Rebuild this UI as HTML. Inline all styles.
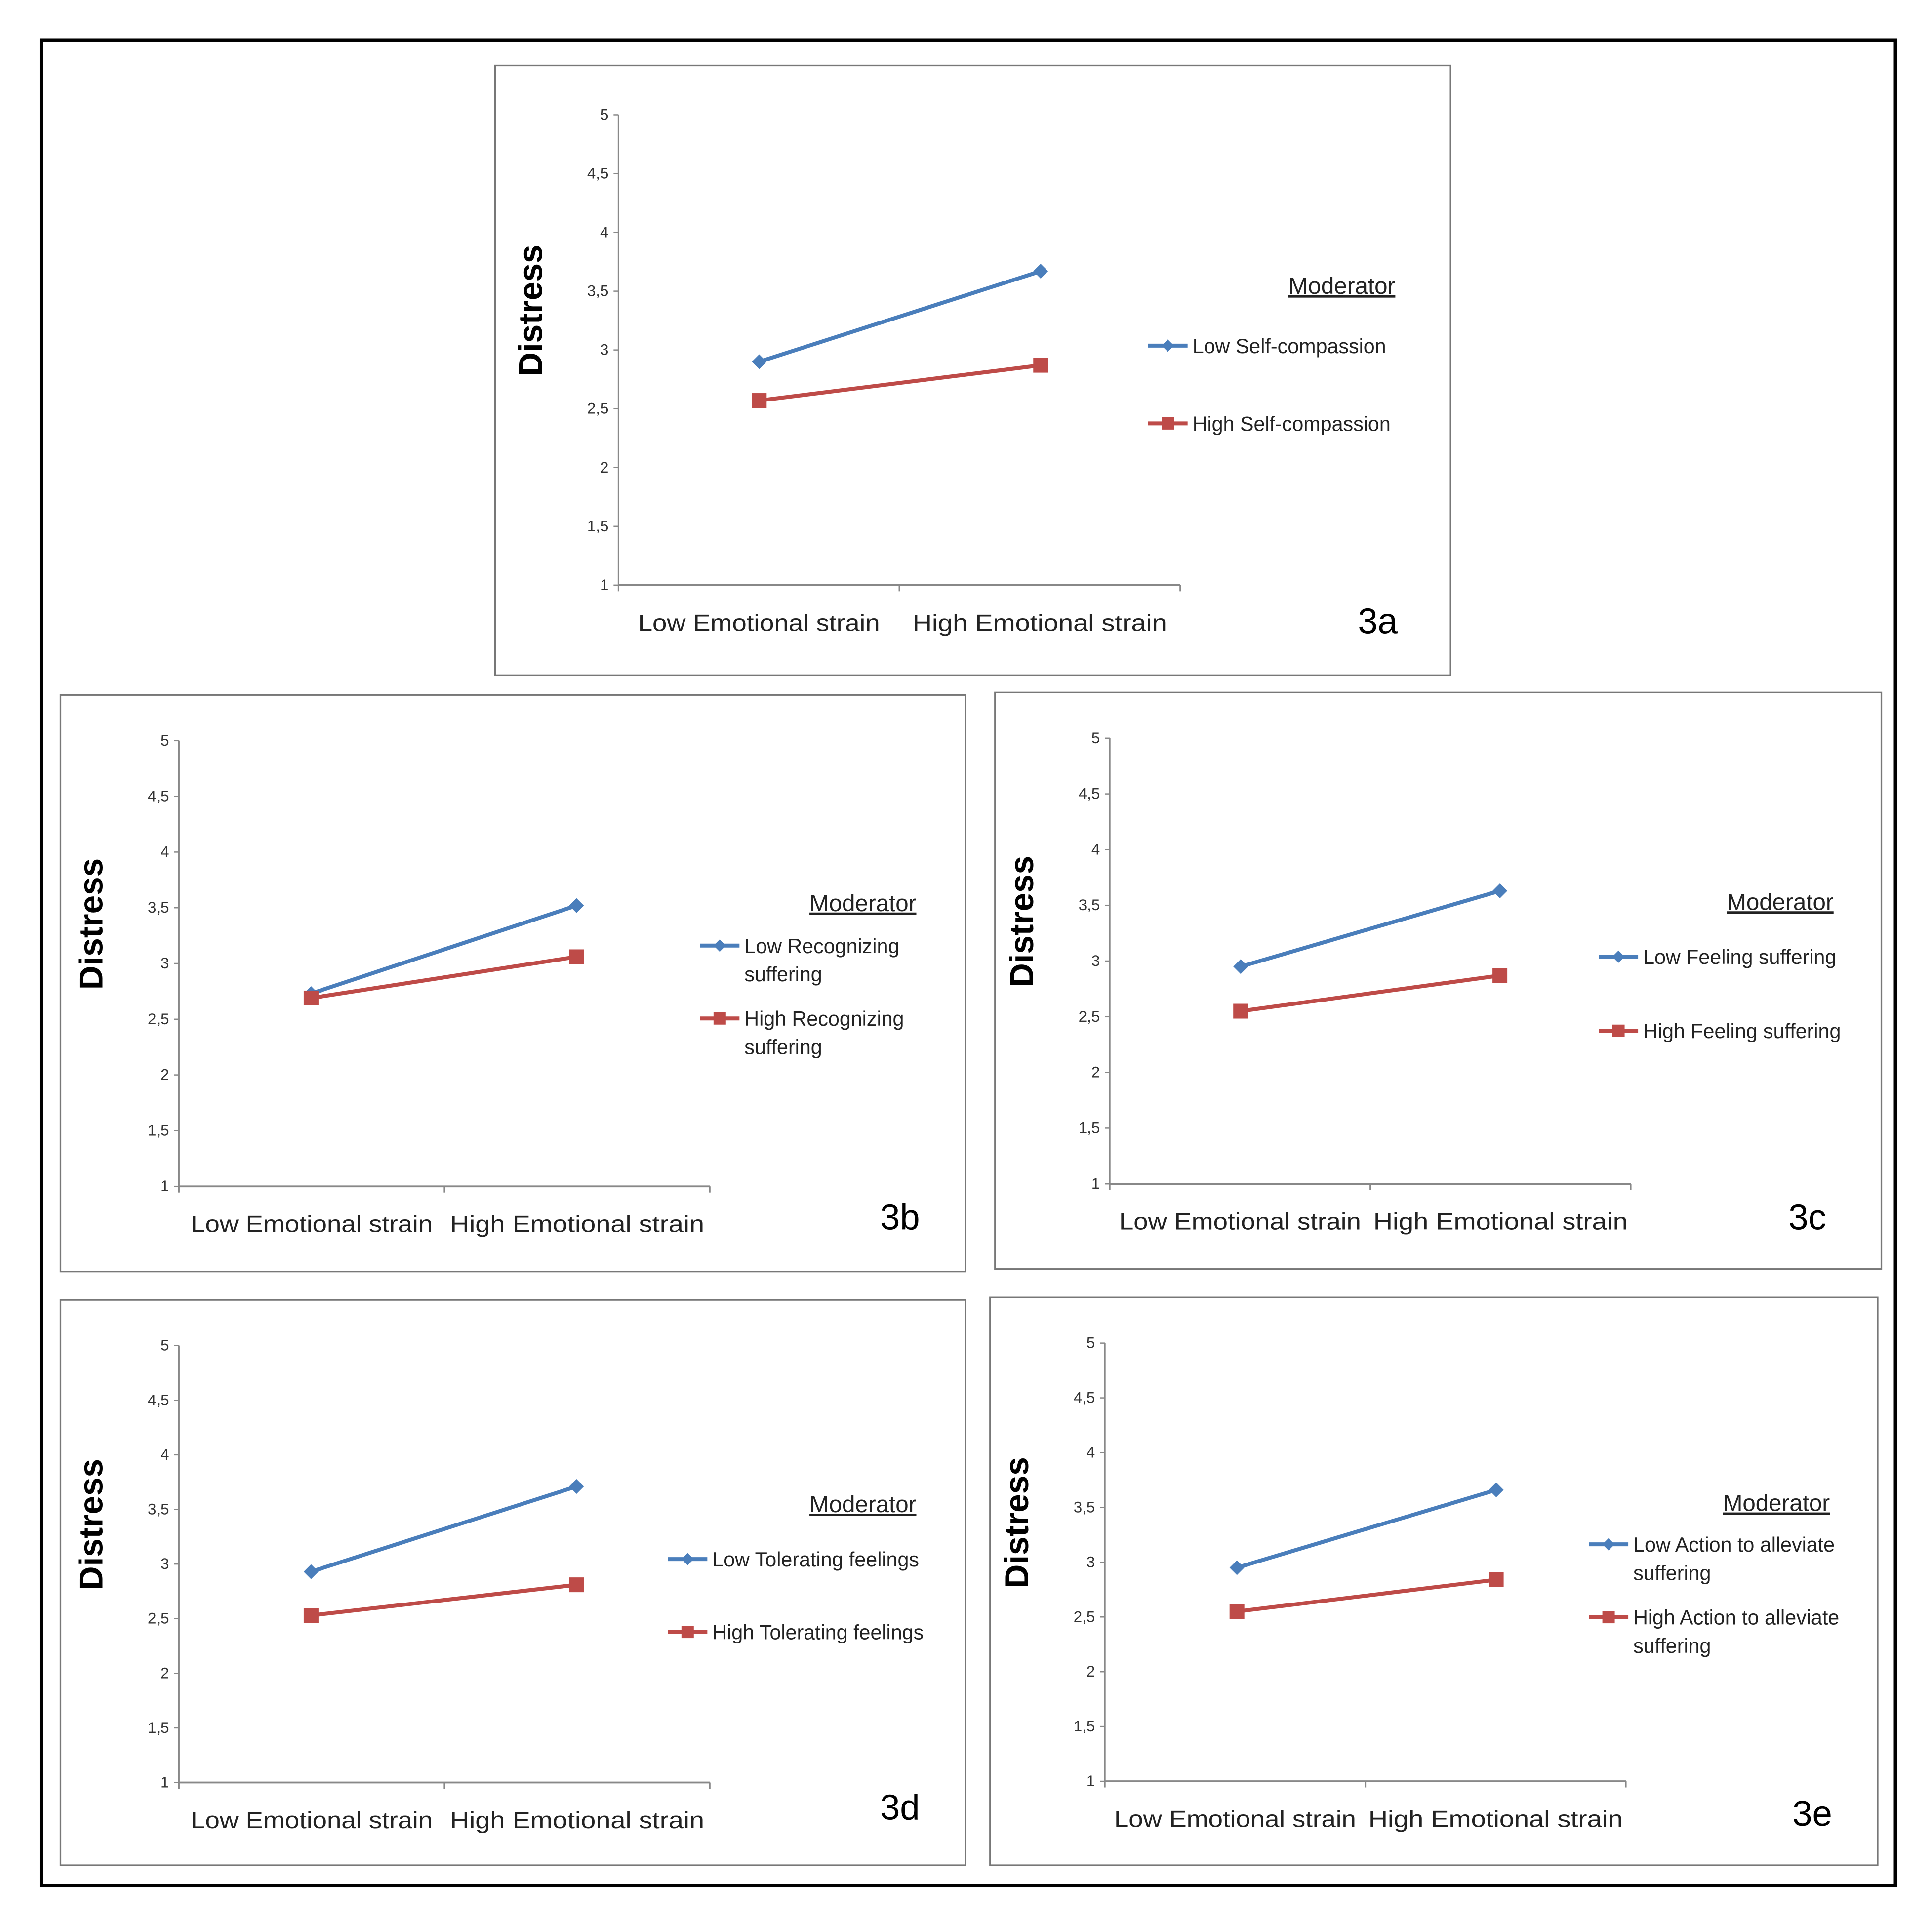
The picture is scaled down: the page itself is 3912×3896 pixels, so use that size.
<!DOCTYPE html>
<html><head><meta charset="utf-8"><style>html,body{margin:0;padding:0;background:#fff}svg{display:block}</style></head>
<body>
<svg id="fig" xmlns="http://www.w3.org/2000/svg" width="3912" height="3896" viewBox="0 0 1565 1558.6" font-family="Liberation Sans, sans-serif">
<rect x="33.5" y="32.5" width="1502" height="1495" fill="none" stroke="#000" stroke-width="3"/>
</svg>
<script>
const categories = ["Low Emotional strain", "High Emotional strain"];
const yTicks = ["1","1,5","2","2,5","3","3,5","4","4,5","5"];
const yTickValues = [1,1.5,2,2.5,3,3.5,4,4.5,5];
const panelLabels = ["3a","3b","3c","3d","3e"];
const lowSeries = [[2.9,3.67],[2.73,3.52],[2.95,3.63],[2.93,3.71],[2.95,3.66]];
const highSeries = [[2.57,2.87],[2.69,3.06],[2.55,2.87],[2.53,2.81],[2.55,2.84]];
const lowNames = [["Low Self-compassion"],["Low Recognizing","suffering"],["Low Feeling suffering"],["Low Tolerating feelings"],["Low Action to alleviate","suffering"]];
const highNames = [["High Self-compassion"],["High Recognizing","suffering"],["High Feeling suffering"],["High Tolerating feelings"],["High Action to alleviate","suffering"]];

const layouts = [
 {box:[401,53,774,494], ax:501, top:93, bot:474, end:956, px:[615,843], mod:[1087,231], lx:930, ly:[280,343], lab:[1116,503]},
 {box:[49,563,733,467], ax:145, top:600, bot:961, end:575, px:[252,467], mod:[699,731], lx:567, ly:[766,825], lab:[729,986]},
 {box:[806,561,718,467], ax:899, top:598, bot:959, end:1321, px:[1005,1215], mod:[1442,730], lx:1295, ly:[775,835], lab:[1464,986]},
 {box:[49,1053,733,458], ax:145, top:1090, bot:1444, end:575, px:[252,467], mod:[699,1218], lx:541, ly:[1263,1322], lab:[729,1464]},
 {box:[802,1051,719,460], ax:895, top:1088, bot:1443, end:1317, px:[1002,1212], mod:[1439,1217], lx:1287, ly:[1251,1310], lab:[1468,1469]}
];
const NS="http://www.w3.org/2000/svg";
const svg=document.getElementById('fig');
function mk(tag,attrs,parent,text){const e=document.createElementNS(NS,tag);for(const k in attrs)e.setAttribute(k,attrs[k]);if(text!==undefined)e.textContent=text;parent.appendChild(e);return e;}
layouts.forEach((L,i)=>{
 const g=mk('g',{},svg);
 
 
 const y=v=>L.bot-(v-1)/4*(L.bot-L.top);
 const box=mk('rect',{x:L.box[0],y:L.box[1],width:L.box[2],height:L.box[3],fill:'#fff',stroke:'#777','stroke-width':1.3},g);
 
 
 const yax=mk('line',{x1:L.ax,y1:L.top,x2:L.ax,y2:L.bot,stroke:'#888','stroke-width':1.2},g);
 
 
 const xax=mk('line',{x1:L.ax,y1:L.bot,x2:L.end,y2:L.bot,stroke:'#888','stroke-width':1.5},g);
 
 
 const mid=(L.ax+L.end)/2;
 [L.ax,mid,L.end].forEach(tx=>mk('line',{x1:tx,y1:L.bot,x2:tx,y2:L.bot+5,stroke:'#888','stroke-width':1.2},g));
 yTickValues.forEach((v,k)=>{
  mk('line',{x1:L.ax-4,y1:y(v),x2:L.ax,y2:y(v),stroke:'#888','stroke-width':1},g);
  const t=mk('text',{x:L.ax-8,y:y(v)+4,'font-size':12.5,'text-anchor':'end',fill:'#333'},g,yTicks[k]);
  
  
 });
 categories.forEach((c,k)=>{
  const cx=(k===0)?(L.ax+mid)/2:(mid+L.end)/2;
  const t=mk('text',{x:cx,y:L.bot+37,'font-size':19,'text-anchor':'middle',fill:'#222',textLength:(c.length>20?206:196),lengthAdjust:'spacingAndGlyphs'},g,c);
  
  
 });
 const yl=mk('text',{x:0,y:0,'font-size':27,'font-weight':'bold','text-anchor':'middle',fill:'#000',transform:`translate(${L.ax-62},${(L.top+L.bot)/2-32}) rotate(-90)`},g,'Distress');
 
 
 const xs=L.px;
 const lowLine=mk('polyline',{points:xs.map((x,k)=>x+','+y(lowSeries[i][k])).join(' '),fill:'none',stroke:'#4a7ebb','stroke-width':3.2},g);
 
 
 const highLine=mk('polyline',{points:xs.map((x,k)=>x+','+y(highSeries[i][k])).join(' '),fill:'none',stroke:'#be4b48','stroke-width':3.2},g);
 
 
 xs.forEach((x,k)=>{
  const yy=y(lowSeries[i][k]);
  const d=mk('polygon',{points:`${x},${yy-6} ${x+6},${yy} ${x},${yy+6} ${x-6},${yy}`,fill:'#4a7ebb'},g);
  
  
  const yh=y(highSeries[i][k]);
  const s=mk('rect',{x:x-6,y:yh-6,width:12,height:12,fill:'#be4b48'},g);
  
  
 });
 const mt=mk('text',{x:L.mod[0],y:L.mod[1]+7,'font-size':19,'text-anchor':'middle','text-decoration':'underline',fill:'#222'},g,'Moderator');
 
 
 [[lowNames[i],'#4a7ebb',0],[highNames[i],'#be4b48',1]].forEach(([names,col,k])=>{
  const ly=L.ly[k];
  mk('line',{x1:L.lx,y1:ly,x2:L.lx+32,y2:ly,stroke:col,'stroke-width':3.2},g);
  if(k===0) mk('polygon',{points:`${L.lx+16},${ly-5} ${L.lx+21},${ly} ${L.lx+16},${ly+5} ${L.lx+11},${ly}`,fill:col},g);
  else mk('rect',{x:L.lx+11,y:ly-5,width:10,height:10,fill:col},g);
  names.forEach((n,j)=>{
   const t=mk('text',{x:L.lx+36,y:ly+6+j*23,'font-size':16.5,fill:'#222'},g,n);
   
   
  });
 });
 const pl=mk('text',{x:L.lab[0],y:L.lab[1]+10,'font-size':29,'text-anchor':'middle',fill:'#000'},g,panelLabels[i]);
 
 
});
</script>
</body></html>
